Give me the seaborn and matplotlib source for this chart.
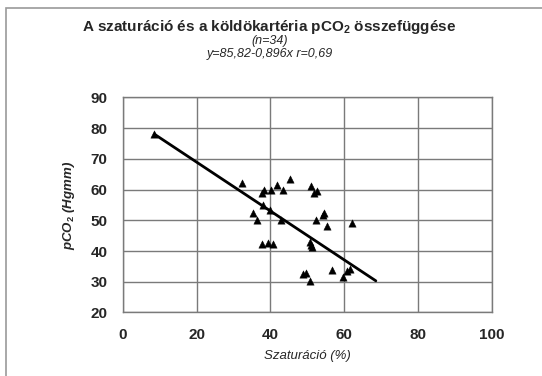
import matplotlib
matplotlib.use("Agg")
import matplotlib.pyplot as plt
from matplotlib.patches import Rectangle
import seaborn as sns
import pandas as pd

# Data
saturation = [8.6, 32.3, 37.8, 38.4, 40.1, 41.9, 43.4, 45.3, 50.9, 51.8,
              52.6, 38.1, 35.4, 36.5, 42.8, 52.4, 54.4, 54.5, 55.3, 62.1,
              37.7, 39.5, 40.8, 50.8, 51.2, 48.9, 49.7, 50.8, 56.6, 59.6,
              60.9, 61.6, 40.0, 51.0]
pco2 = [78.0, 62.2, 59.0, 59.8, 59.8, 61.4, 59.8, 63.3, 61.3, 59.0,
        59.6, 55.0, 52.3, 50.1, 50.1, 50.1, 51.7, 52.3, 48.1, 49.2,
        42.3, 42.7, 42.3, 43.0, 41.2, 32.4, 33.0, 30.2, 33.8, 31.6,
        33.5, 34.1, 53.3, 42.0]
trend_x = [8.6, 68.6]
trend_y = [78.0, 30.3]
x_ticks = [0, 20, 40, 60, 80, 100]
y_ticks = [20, 30, 40, 50, 60, 70, 80, 90]

title = "A szaturáció és a köldökartéria pCO$_\\mathbf{2}$ összefüggése"
subtitle1 = "(n=34)"
subtitle2 = "y=85,82-0,896x r=0,69"
xlabel = "Szaturáció (%)"
ylabel = "pCO$_\\mathbf{2}$ (Hgmm)"

df = pd.DataFrame({"sat": saturation, "pco2": pco2})
tr = pd.DataFrame({"x": trend_x, "y": trend_y})

sns.set_theme(style="white")
plt.rcParams['font.family'] = ['Liberation Sans', 'DejaVu Sans']
plt.rcParams['mathtext.fontset'] = 'custom'
plt.rcParams['mathtext.rm'] = 'Liberation Sans'
plt.rcParams['mathtext.it'] = 'Liberation Sans:italic'
plt.rcParams['mathtext.bf'] = 'Liberation Sans:bold'
plt.rcParams['mathtext.bfit'] = 'Liberation Sans:bold:italic'

fig = plt.figure(figsize=(5.42, 3.76), dpi=100)
fig.patch.set_facecolor("white")
ax = fig.add_axes([0.2264, 0.1689, 0.6808, 0.5723])

sns.lineplot(data=tr, x="x", y="y", ax=ax, color="black", linewidth=2.0, zorder=3)
sns.scatterplot(data=df, x="sat", y="pco2", ax=ax, marker="^", color="black",
                s=28, edgecolor="black", linewidth=0.3, zorder=4)

ax.set_xlim(0, 100)
ax.set_ylim(20, 90)
ax.set_xticks(x_ticks)
ax.set_yticks(y_ticks)
ax.set_xticklabels([str(t) for t in x_ticks], fontweight="bold", fontsize=11)
ax.set_yticklabels([str(t) for t in y_ticks], fontweight="bold", fontsize=11)
ax.tick_params(axis="both", length=0, pad=11)
ax.grid(True, color="#7a7a7a", linewidth=1.0)
ax.set_axisbelow(True)
for sp in ax.spines.values():
    sp.set_color("#7a7a7a")
    sp.set_linewidth(1.0)

ax.set_xlabel(xlabel, fontstyle="italic", fontsize=9.5, labelpad=6)
ax.set_ylabel(ylabel, fontstyle="italic", fontweight="bold", fontsize=9.5)
ax.yaxis.set_label_coords(-0.125, 0.5)

fig.text(0.497, 1 - 31/376, title, ha="center", va="baseline",
         fontweight="bold", fontsize=11)
fig.text(0.497, 1 - 44/376, subtitle1, ha="center", va="baseline",
         fontstyle="italic", fontsize=9)
fig.text(0.497, 1 - 57/376, subtitle2, ha="center", va="baseline",
         fontstyle="italic", fontsize=9)

fig.patches.append(Rectangle((6/542, -0.05), 1.1, 1 - 8/376 + 0.05,
                             transform=fig.transFigure, fill=False,
                             edgecolor="#9a9a9a", linewidth=1.2))

fig.savefig("out.png", dpi=100, facecolor="white")
